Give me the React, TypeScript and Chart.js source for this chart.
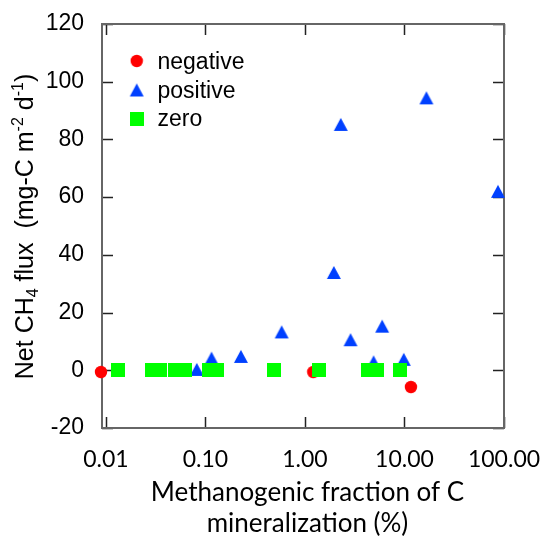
import React, { useEffect, useRef } from 'react';
import { Chart, registerables } from 'chart.js';

Chart.register(...registerables);

// ---- data ----
const seriesNames = ['negative', 'positive', 'zero'];
const negativeX = [0.0089, 1.21, 11.6];
const negativeY = [-0.6, -0.6, -5.8];
const positiveX = [0.0818, 0.115, 0.227, 0.583, 1.95, 2.29, 2.87, 4.89, 5.96, 9.84, 16.6, 87];
const positiveY = [0.3, 4.2, 4.8, 13.3, 33.9, 85.2, 10.6, 2.9, 15.3, 3.8, 94.4, 62.0];
const zeroX = [0.0132, 0.0292, 0.0348, 0.0492, 0.0621, 0.108, 0.131, 0.492, 1.39, 4.29, 5.27, 8.98];
const zeroY = [0, 0, 0, 0, 0, 0, 0, 0, 0, 0, 0, 0];
const xTicks = [0.01, 0.1, 1, 10, 100];
const xTickLabels = ['0.01', '0.10', '1.00', '10.00', '100.00'];
const yTicks = [-20, 0, 20, 40, 60, 80, 100, 120];
const xTitleLines = ['Methanogenic fraction of C', 'mineralization (%)'];
const yTitleParts: [string, 'n' | 'sub' | 'sup'][] = [
  ['Net CH', 'n'], ['4', 'sub'], [' flux  (mg-C m', 'n'], ['-2', 'sup'], [' d', 'n'], ['-1', 'sup'], [')', 'n'],
];

const RED = '#ff0000';
const BLUE = '#0040ff';
const GREEN = '#00ff00';

function makeMarker(kind: string, color: string): HTMLCanvasElement {
  const c = document.createElement('canvas');
  const ctx = c.getContext('2d')!;
  if (kind === 'circle') {
    c.width = 14; c.height = 14;
    ctx.fillStyle = color;
    ctx.beginPath();
    ctx.arc(7, 7, 6.2, 0, Math.PI * 2);
    ctx.fill();
  } else if (kind === 'triangle') {
    c.width = 16; c.height = 15;
    ctx.fillStyle = color;
    ctx.beginPath();
    ctx.moveTo(8, 1);
    ctx.lineTo(15, 14);
    ctx.lineTo(1, 14);
    ctx.closePath();
    ctx.fill();
  } else {
    c.width = 14; c.height = 14;
    ctx.fillStyle = color;
    ctx.fillRect(0, 0, 14, 14);
  }
  return c;
}

const toPts = (xs: number[], ys: number[]) => xs.map((x, i) => ({ x, y: ys[i] }));

export default function App() {
  const ref = useRef<HTMLCanvasElement>(null);

  useEffect(() => {
    const canvas = ref.current!;
    const circle = makeMarker('circle', RED);
    const tri = makeMarker('triangle', BLUE);
    const sq = makeMarker('square', GREEN);
    const markers = [circle, tri, sq];

    const framePlugin = {
      id: 'frame',
      beforeDatasetsDraw(chart: any) {
        const { ctx, chartArea: a, scales } = chart;
        const xs = scales.x, ys = scales.y;
        ctx.save();
        ctx.strokeStyle = '#222';
        ctx.lineWidth = 1.5;
        const TL = 11;
        ctx.beginPath();
        xTicks.forEach((v) => {
          const px = Math.round(xs.getPixelForValue(v)) + 0.5;
          ctx.moveTo(px, a.bottom); ctx.lineTo(px, a.bottom - TL);
          ctx.moveTo(px, a.top); ctx.lineTo(px, a.top + TL);
        });
        yTicks.forEach((v) => {
          const py = Math.round(ys.getPixelForValue(v)) + 0.5;
          ctx.moveTo(a.left, py); ctx.lineTo(a.left + TL, py);
          ctx.moveTo(a.right, py); ctx.lineTo(a.right - TL, py);
        });
        ctx.stroke();
        ctx.strokeStyle = '#666';
        ctx.lineWidth = 2;
        ctx.strokeRect(a.left, a.top, a.right - a.left, a.bottom - a.top);
        ctx.restore();
      },
      afterDraw(chart: any) {
        const { ctx } = chart;
        ctx.save();
        const ly = [61, 90, 118.5];
        const lb = [69, 97.5, 126];
        ctx.font = '23px "Liberation Sans", Arial, sans-serif';
        ctx.fillStyle = '#000';
        ctx.textBaseline = 'alphabetic';
        ctx.textAlign = 'left';
        seriesNames.forEach((name, i) => {
          const m = markers[i];
          ctx.drawImage(m, 136.7 - m.width / 2, ly[i] - m.height / 2);
          ctx.fillText(name, 157.5, lb[i]);
        });
        ctx.font = '26px Lato, "Open Sans", sans-serif';
        ctx.textAlign = 'center';
        ctx.fillText(xTitleLines[0], 307.5, 501);
        ctx.fillText(xTitleLines[1], 307.5, 532);
        const big = '25px "Liberation Sans", Arial, sans-serif';
        const small = '16px "Liberation Sans", Arial, sans-serif';
        let total = 0;
        const widths = yTitleParts.map(([t, k]) => {
          ctx.font = k === 'n' ? big : small;
          const w = ctx.measureText(t).width;
          total += w;
          return w;
        });
        ctx.translate(33, 226.5);
        ctx.rotate(-Math.PI / 2);
        ctx.textAlign = 'left';
        let cx = -total / 2;
        yTitleParts.forEach(([t, k], i) => {
          ctx.font = k === 'n' ? big : small;
          const dy = k === 'sub' ? 5 : k === 'sup' ? -10 : 0;
          ctx.fillText(t, cx, dy);
          cx += widths[i];
        });
        ctx.restore();
      },
    };

    const chart = new Chart(canvas, {
      type: 'scatter',
      data: {
        datasets: [
          { label: seriesNames[0], data: toPts(negativeX, negativeY), pointStyle: circle as any, pointRadius: 6, order: 2, clip: false as any, backgroundColor: RED, borderColor: RED },
          { label: seriesNames[1], data: toPts(positiveX, positiveY), pointStyle: tri as any, pointRadius: 7, order: 1, clip: false as any, backgroundColor: BLUE, borderColor: BLUE },
          { label: seriesNames[2], data: toPts(zeroX, zeroY), pointStyle: sq as any, pointRadius: 7, order: 0, clip: false as any, backgroundColor: GREEN, borderColor: GREEN },
        ],
      },
      options: {
        responsive: false,
        animation: false,
        layout: { padding: { left: 0, top: 24, right: 40, bottom: 0 } },
        plugins: { legend: { display: false }, tooltip: { enabled: false } },
        scales: {
          x: {
            type: 'logarithmic',
            min: 0.00912,
            max: 100,
            grid: { display: false },
            border: { display: false },
            afterBuildTicks: (s: any) => { s.ticks = xTicks.map((v) => ({ value: v })); },
            afterFit: (s: any) => { s.height = 110; s.paddingLeft = 0; s.paddingRight = 0; },
            ticks: {
              autoSkip: false,
              maxRotation: 0,
              padding: 10,
              color: '#000',
              font: { family: 'Lato, "Open Sans", sans-serif', size: 23 },
              callback: (v: any) => {
                const i = xTicks.indexOf(Number(v));
                return i >= 0 ? xTickLabels[i] : '';
              },
            },
          },
          y: {
            type: 'linear',
            min: -20,
            max: 120,
            grid: { display: false },
            border: { display: false },
            afterBuildTicks: (s: any) => { s.ticks = yTicks.map((v) => ({ value: v })); },
            afterFit: (s: any) => { s.width = 102; s.paddingTop = 0; s.paddingBottom = 0; },
            ticks: {
              padding: 10,
              color: '#000',
              font: { family: '"Liberation Sans", Arial, sans-serif', size: 23 },
            },
          },
        },
      },
      plugins: [framePlugin],
    });
    return () => chart.destroy();
  }, []);

  return (
    <div style={{ position: 'fixed', left: 0, top: 0, width: 544, height: 538, background: '#fff' }}>
      <canvas ref={ref} width={544} height={538} style={{ display: 'block' }} />
    </div>
  );
}
